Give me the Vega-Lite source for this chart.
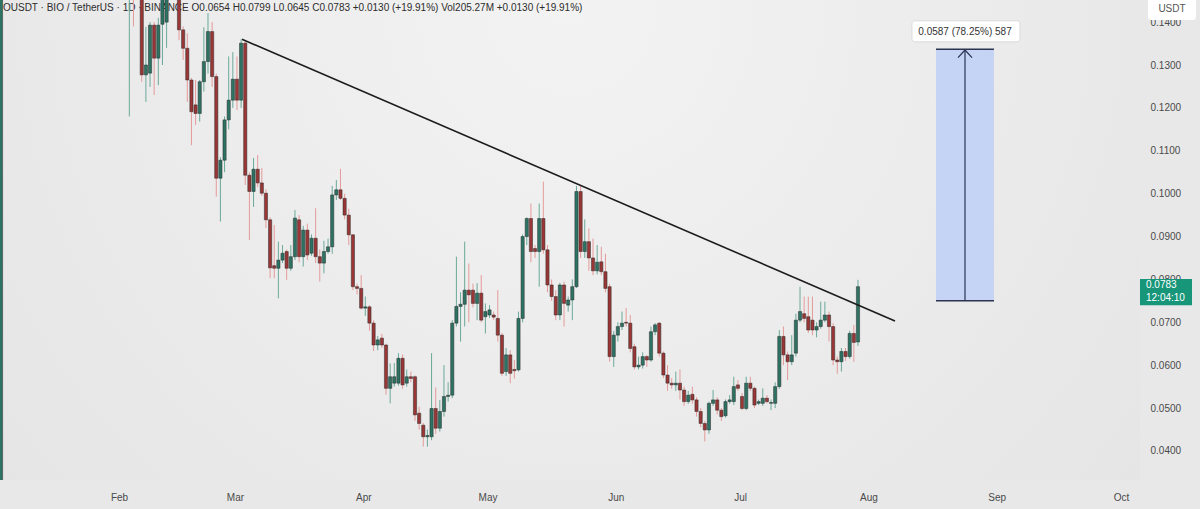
{
"$schema": "https://vega.github.io/schema/vega-lite/v6.json",
"width": 1140,
"height": 480,
"autosize": {"type": "none"},
"padding": {"left": 0, "top": 0, "right": 60, "bottom": 29},
"background": "#e8e8e8",
"config": {
  "view": {"stroke": null, "fill": {"gradient": "radial", "x1": 0.5, "y1": 0.3, "r1": 0, "x2": 0.5, "y2": 0.3, "r2": 0.8, "stops": [{"offset": 0, "color": "#f3f3f3"}, {"offset": 1, "color": "#e2e2e2"}]}},
  "axis": {"labelFont": "Liberation Sans", "labelColor": "#4a4a4a", "labelFontSize": 10, "domain": false, "ticks": false, "grid": false}
},
"data": {
  "format": {"parse": {"d": "date:'%Y-%m-%d'"}},
  "values": [
{"d":"2025-01-03","o":0.030,"h":0.900,"l":0.030,"c":0.800},
{"d":"2025-02-03","o":0.150,"h":0.165,"l":0.118,"c":0.158},
{"d":"2025-02-04","o":0.160,"h":0.163,"l":0.139,"c":0.150},
{"d":"2025-02-05","o":0.150,"h":0.156,"l":0.146,"c":0.152},
{"d":"2025-02-06","o":0.152,"h":0.154,"l":0.1261,"c":0.1277},
{"d":"2025-02-07","o":0.1277,"h":0.1389,"l":0.1214,"c":0.1300},
{"d":"2025-02-08","o":0.1281,"h":0.1400,"l":0.1249,"c":0.1393},
{"d":"2025-02-09","o":0.1393,"h":0.1400,"l":0.1230,"c":0.1316},
{"d":"2025-02-10","o":0.1316,"h":0.1410,"l":0.1253,"c":0.1393},
{"d":"2025-02-11","o":0.1395,"h":0.1560,"l":0.1300,"c":0.1500},
{"d":"2025-02-12","o":0.1400,"h":0.1580,"l":0.1340,"c":0.1560},
{"d":"2025-02-13","o":0.156,"h":0.162,"l":0.150,"c":0.160},
{"d":"2025-02-14","o":0.160,"h":0.165,"l":0.152,"c":0.155},
{"d":"2025-02-15","o":0.1510,"h":0.1540,"l":0.1358,"c":0.1382},
{"d":"2025-02-16","o":0.1382,"h":0.1390,"l":0.1312,"c":0.1339},
{"d":"2025-02-17","o":0.1339,"h":0.1374,"l":0.1214,"c":0.1265},
{"d":"2025-02-18","o":0.1265,"h":0.1270,"l":0.1113,"c":0.1191},
{"d":"2025-02-19","o":0.1207,"h":0.1265,"l":0.1160,"c":0.1187},
{"d":"2025-02-20","o":0.1187,"h":0.1265,"l":0.1168,"c":0.1261},
{"d":"2025-02-21","o":0.1261,"h":0.1388,"l":0.1238,"c":0.1308},
{"d":"2025-02-22","o":0.1308,"h":0.1421,"l":0.1280,"c":0.1378},
{"d":"2025-02-23","o":0.1378,"h":0.1400,"l":0.1249,"c":0.1273},
{"d":"2025-02-24","o":0.1273,"h":0.1280,"l":0.0993,"c":0.1036},
{"d":"2025-02-25","o":0.1036,"h":0.1085,"l":0.0935,"c":0.1078},
{"d":"2025-02-26","o":0.1078,"h":0.1180,"l":0.1050,"c":0.1172},
{"d":"2025-02-27","o":0.1172,"h":0.1320,"l":0.1150,"c":0.1218},
{"d":"2025-02-28","o":0.1218,"h":0.1330,"l":0.1200,"c":0.1267},
{"d":"2025-03-01","o":0.1267,"h":0.1320,"l":0.1195,"c":0.1218},
{"d":"2025-03-02","o":0.1218,"h":0.1360,"l":0.1200,"c":0.1351},
{"d":"2025-03-03","o":0.1351,"h":0.1358,"l":0.1020,"c":0.1043},
{"d":"2025-03-04","o":0.1043,"h":0.1050,"l":0.0892,"c":0.1005},
{"d":"2025-03-05","o":0.1005,"h":0.1083,"l":0.0969,"c":0.1057},
{"d":"2025-03-06","o":0.1057,"h":0.1090,"l":0.1015,"c":0.1025},
{"d":"2025-03-07","o":0.1025,"h":0.1060,"l":0.0995,"c":0.1001},
{"d":"2025-03-08","o":0.1001,"h":0.1010,"l":0.0920,"c":0.0939},
{"d":"2025-03-09","o":0.0939,"h":0.0945,"l":0.0803,"c":0.0827},
{"d":"2025-03-10","o":0.0832,"h":0.0927,"l":0.0803,"c":0.0826},
{"d":"2025-03-11","o":0.0826,"h":0.0888,"l":0.0756,"c":0.0845},
{"d":"2025-03-12","o":0.0845,"h":0.0880,"l":0.0838,"c":0.0861},
{"d":"2025-03-13","o":0.0865,"h":0.0870,"l":0.0799,"c":0.0826},
{"d":"2025-03-14","o":0.0826,"h":0.0880,"l":0.0820,"c":0.0853},
{"d":"2025-03-15","o":0.0853,"h":0.0962,"l":0.0845,"c":0.0943},
{"d":"2025-03-16","o":0.0939,"h":0.0950,"l":0.0840,"c":0.0853},
{"d":"2025-03-17","o":0.0853,"h":0.0925,"l":0.0830,"c":0.0915},
{"d":"2025-03-18","o":0.0915,"h":0.0930,"l":0.0845,"c":0.0857},
{"d":"2025-03-19","o":0.0861,"h":0.0905,"l":0.0855,"c":0.0896},
{"d":"2025-03-20","o":0.0896,"h":0.0966,"l":0.0838,"c":0.0853},
{"d":"2025-03-21","o":0.0853,"h":0.0870,"l":0.0795,"c":0.0838},
{"d":"2025-03-22","o":0.0838,"h":0.0890,"l":0.0814,"c":0.0865},
{"d":"2025-03-23","o":0.0865,"h":0.0895,"l":0.0860,"c":0.0876},
{"d":"2025-03-24","o":0.0876,"h":0.1018,"l":0.0860,"c":0.0997},
{"d":"2025-03-25","o":0.0997,"h":0.1032,"l":0.0985,"c":0.1009},
{"d":"2025-03-26","o":0.1009,"h":0.1058,"l":0.0985,"c":0.0989},
{"d":"2025-03-27","o":0.0989,"h":0.1000,"l":0.0940,"c":0.0950},
{"d":"2025-03-28","o":0.0950,"h":0.0965,"l":0.0880,"c":0.0904},
{"d":"2025-03-29","o":0.0904,"h":0.0906,"l":0.0775,"c":0.0783},
{"d":"2025-03-30","o":0.0783,"h":0.0790,"l":0.0765,"c":0.0779},
{"d":"2025-03-31","o":0.0779,"h":0.0810,"l":0.0730,"c":0.0733},
{"d":"2025-04-01","o":0.0733,"h":0.0760,"l":0.0715,"c":0.0736},
{"d":"2025-04-02","o":0.0736,"h":0.0740,"l":0.0680,"c":0.0698},
{"d":"2025-04-03","o":0.0698,"h":0.0705,"l":0.0633,"c":0.0647},
{"d":"2025-04-04","o":0.0647,"h":0.0668,"l":0.0635,"c":0.0659},
{"d":"2025-04-05","o":0.0663,"h":0.0673,"l":0.0640,"c":0.0647},
{"d":"2025-04-06","o":0.0647,"h":0.0650,"l":0.0531,"c":0.0546},
{"d":"2025-04-07","o":0.0546,"h":0.0604,"l":0.0511,"c":0.0573},
{"d":"2025-04-08","o":0.0558,"h":0.0605,"l":0.0550,"c":0.0573},
{"d":"2025-04-09","o":0.0558,"h":0.0628,"l":0.0552,"c":0.0616},
{"d":"2025-04-10","o":0.0616,"h":0.0625,"l":0.0545,"c":0.0554},
{"d":"2025-04-11","o":0.0558,"h":0.0590,"l":0.0550,"c":0.0573},
{"d":"2025-04-12","o":0.0573,"h":0.0585,"l":0.0560,"c":0.0569},
{"d":"2025-04-13","o":0.0573,"h":0.0576,"l":0.0470,"c":0.0484},
{"d":"2025-04-14","o":0.0488,"h":0.0503,"l":0.0450,"c":0.0464},
{"d":"2025-04-15","o":0.0460,"h":0.0465,"l":0.0410,"c":0.0433},
{"d":"2025-04-16","o":0.0433,"h":0.0450,"l":0.0410,"c":0.0436},
{"d":"2025-04-17","o":0.0433,"h":0.0628,"l":0.0425,"c":0.0499},
{"d":"2025-04-18","o":0.0499,"h":0.0548,"l":0.0440,"c":0.0453},
{"d":"2025-04-19","o":0.0453,"h":0.0519,"l":0.0445,"c":0.0492},
{"d":"2025-04-20","o":0.0492,"h":0.0600,"l":0.0480,"c":0.0527},
{"d":"2025-04-21","o":0.0527,"h":0.0560,"l":0.0515,"c":0.0530},
{"d":"2025-04-22","o":0.0530,"h":0.0705,"l":0.0523,"c":0.0698},
{"d":"2025-04-23","o":0.0698,"h":0.0853,"l":0.0690,"c":0.0737},
{"d":"2025-04-24","o":0.0737,"h":0.0770,"l":0.0655,"c":0.0742},
{"d":"2025-04-25","o":0.0742,"h":0.0888,"l":0.0690,"c":0.0775},
{"d":"2025-04-26","o":0.0775,"h":0.0837,"l":0.0700,"c":0.0764},
{"d":"2025-04-27","o":0.0775,"h":0.0790,"l":0.0735,"c":0.0744},
{"d":"2025-04-28","o":0.0744,"h":0.0791,"l":0.0705,"c":0.0768},
{"d":"2025-04-29","o":0.0768,"h":0.0810,"l":0.0700,"c":0.0705},
{"d":"2025-04-30","o":0.0713,"h":0.0744,"l":0.0674,"c":0.0725},
{"d":"2025-05-01","o":0.0717,"h":0.0740,"l":0.0710,"c":0.0729},
{"d":"2025-05-02","o":0.0717,"h":0.0725,"l":0.0705,"c":0.0712},
{"d":"2025-05-03","o":0.0709,"h":0.0775,"l":0.0655,"c":0.0670},
{"d":"2025-05-04","o":0.0670,"h":0.0675,"l":0.0575,"c":0.0581},
{"d":"2025-05-05","o":0.0585,"h":0.0640,"l":0.0575,"c":0.0624},
{"d":"2025-05-06","o":0.0624,"h":0.0635,"l":0.0558,"c":0.0581},
{"d":"2025-05-07","o":0.0590,"h":0.0612,"l":0.0569,"c":0.0587},
{"d":"2025-05-08","o":0.0589,"h":0.0725,"l":0.0585,"c":0.0709},
{"d":"2025-05-09","o":0.0709,"h":0.0905,"l":0.0700,"c":0.0900},
{"d":"2025-05-10","o":0.0900,"h":0.0945,"l":0.0880,"c":0.0942},
{"d":"2025-05-11","o":0.0942,"h":0.0977,"l":0.0840,"c":0.0865},
{"d":"2025-05-12","o":0.0872,"h":0.0880,"l":0.0850,"c":0.0865},
{"d":"2025-05-13","o":0.0865,"h":0.0977,"l":0.0783,"c":0.0942},
{"d":"2025-05-14","o":0.0942,"h":0.1028,"l":0.0860,"c":0.0869},
{"d":"2025-05-15","o":0.0869,"h":0.0880,"l":0.0770,"c":0.0787},
{"d":"2025-05-16","o":0.0787,"h":0.0800,"l":0.0750,"c":0.0760},
{"d":"2025-05-17","o":0.0760,"h":0.0775,"l":0.0705,"c":0.0717},
{"d":"2025-05-18","o":0.0717,"h":0.0792,"l":0.0705,"c":0.0787},
{"d":"2025-05-19","o":0.0787,"h":0.0795,"l":0.0690,"c":0.0744},
{"d":"2025-05-20","o":0.0740,"h":0.0760,"l":0.0725,"c":0.0752},
{"d":"2025-05-21","o":0.0752,"h":0.0800,"l":0.0705,"c":0.0783},
{"d":"2025-05-22","o":0.0783,"h":0.1018,"l":0.0780,"c":0.1005},
{"d":"2025-05-23","o":0.1005,"h":0.1018,"l":0.0850,"c":0.0865},
{"d":"2025-05-24","o":0.0865,"h":0.0940,"l":0.0850,"c":0.0888},
{"d":"2025-05-25","o":0.0888,"h":0.0919,"l":0.0820,"c":0.0850},
{"d":"2025-05-26","o":0.0850,"h":0.0895,"l":0.0810,"c":0.0820},
{"d":"2025-05-27","o":0.0820,"h":0.0880,"l":0.0812,"c":0.0840},
{"d":"2025-05-28","o":0.0841,"h":0.0876,"l":0.0810,"c":0.0818},
{"d":"2025-05-29","o":0.0818,"h":0.0860,"l":0.0770,"c":0.0779},
{"d":"2025-05-30","o":0.0783,"h":0.0790,"l":0.0608,"c":0.0620},
{"d":"2025-05-31","o":0.0620,"h":0.0680,"l":0.0596,"c":0.0670},
{"d":"2025-06-01","o":0.0670,"h":0.0700,"l":0.0655,"c":0.0690},
{"d":"2025-06-02","o":0.0690,"h":0.0725,"l":0.0682,"c":0.0698},
{"d":"2025-06-03","o":0.0700,"h":0.0733,"l":0.0690,"c":0.0698},
{"d":"2025-06-04","o":0.0698,"h":0.0717,"l":0.0630,"c":0.0639},
{"d":"2025-06-05","o":0.0643,"h":0.0650,"l":0.0590,"c":0.0596},
{"d":"2025-06-06","o":0.0596,"h":0.0620,"l":0.0590,"c":0.0600},
{"d":"2025-06-07","o":0.0600,"h":0.0630,"l":0.0592,"c":0.0620},
{"d":"2025-06-08","o":0.0620,"h":0.0624,"l":0.0596,"c":0.0612},
{"d":"2025-06-09","o":0.0612,"h":0.0690,"l":0.0608,"c":0.0678},
{"d":"2025-06-10","o":0.0678,"h":0.0698,"l":0.0670,"c":0.0694},
{"d":"2025-06-11","o":0.0698,"h":0.0700,"l":0.0620,"c":0.0628},
{"d":"2025-06-12","o":0.0628,"h":0.0632,"l":0.0570,"c":0.0577},
{"d":"2025-06-13","o":0.0577,"h":0.0600,"l":0.0540,"c":0.0558},
{"d":"2025-06-14","o":0.0558,"h":0.0570,"l":0.0545,"c":0.0554},
{"d":"2025-06-15","o":0.0554,"h":0.0585,"l":0.0540,"c":0.0558},
{"d":"2025-06-16","o":0.0558,"h":0.0590,"l":0.0520,"c":0.0542},
{"d":"2025-06-17","o":0.0542,"h":0.0550,"l":0.0505,"c":0.0515},
{"d":"2025-06-18","o":0.0515,"h":0.0540,"l":0.0510,"c":0.0530},
{"d":"2025-06-19","o":0.0532,"h":0.0550,"l":0.0510,"c":0.0519},
{"d":"2025-06-20","o":0.0519,"h":0.0525,"l":0.0480,"c":0.0492},
{"d":"2025-06-21","o":0.0492,"h":0.0500,"l":0.0455,"c":0.0464},
{"d":"2025-06-22","o":0.0464,"h":0.0470,"l":0.0422,"c":0.0449},
{"d":"2025-06-23","o":0.0449,"h":0.0515,"l":0.0440,"c":0.0511},
{"d":"2025-06-24","o":0.0511,"h":0.0542,"l":0.0505,"c":0.0519},
{"d":"2025-06-25","o":0.0519,"h":0.0525,"l":0.0485,"c":0.0495},
{"d":"2025-06-26","o":0.0495,"h":0.0500,"l":0.0470,"c":0.0480},
{"d":"2025-06-27","o":0.0482,"h":0.0520,"l":0.0478,"c":0.0515},
{"d":"2025-06-28","o":0.0515,"h":0.0530,"l":0.0510,"c":0.0519},
{"d":"2025-06-29","o":0.0515,"h":0.0573,"l":0.0507,"c":0.0550},
{"d":"2025-06-30","o":0.0554,"h":0.0565,"l":0.0540,"c":0.0546},
{"d":"2025-07-01","o":0.0527,"h":0.0535,"l":0.0495,"c":0.0499},
{"d":"2025-07-02","o":0.0499,"h":0.0573,"l":0.0495,"c":0.0558},
{"d":"2025-07-03","o":0.0558,"h":0.0573,"l":0.0540,"c":0.0546},
{"d":"2025-07-04","o":0.0546,"h":0.0550,"l":0.0500,"c":0.0507},
{"d":"2025-07-05","o":0.0511,"h":0.0520,"l":0.0507,"c":0.0515},
{"d":"2025-07-06","o":0.0511,"h":0.0546,"l":0.0505,"c":0.0523},
{"d":"2025-07-07","o":0.0523,"h":0.0530,"l":0.0511,"c":0.0515},
{"d":"2025-07-08","o":0.0511,"h":0.0520,"l":0.0495,"c":0.0513},
{"d":"2025-07-09","o":0.0511,"h":0.0560,"l":0.0500,"c":0.0550},
{"d":"2025-07-10","o":0.0550,"h":0.0682,"l":0.0545,"c":0.0667},
{"d":"2025-07-11","o":0.0667,"h":0.0690,"l":0.0600,"c":0.0624},
{"d":"2025-07-12","o":0.0624,"h":0.0632,"l":0.0565,"c":0.0608},
{"d":"2025-07-13","o":0.0608,"h":0.0670,"l":0.0600,"c":0.0624},
{"d":"2025-07-14","o":0.0628,"h":0.0720,"l":0.0620,"c":0.0705},
{"d":"2025-07-15","o":0.0705,"h":0.0783,"l":0.0700,"c":0.0725},
{"d":"2025-07-16","o":0.0720,"h":0.0760,"l":0.0700,"c":0.0709},
{"d":"2025-07-17","o":0.0713,"h":0.0760,"l":0.0675,"c":0.0682},
{"d":"2025-07-18","o":0.0705,"h":0.0760,"l":0.0670,"c":0.0682},
{"d":"2025-07-19","o":0.0682,"h":0.0700,"l":0.0665,"c":0.0690},
{"d":"2025-07-20","o":0.0690,"h":0.0748,"l":0.0685,"c":0.0705},
{"d":"2025-07-21","o":0.0705,"h":0.0748,"l":0.0700,"c":0.0717},
{"d":"2025-07-22","o":0.0717,"h":0.0725,"l":0.0655,"c":0.0690},
{"d":"2025-07-23","o":0.0690,"h":0.0698,"l":0.0600,"c":0.0612},
{"d":"2025-07-24","o":0.0612,"h":0.0620,"l":0.0580,"c":0.0608},
{"d":"2025-07-25","o":0.0608,"h":0.0640,"l":0.0585,"c":0.0632},
{"d":"2025-07-26","o":0.0632,"h":0.0640,"l":0.0610,"c":0.0620},
{"d":"2025-07-27","o":0.0620,"h":0.0680,"l":0.0615,"c":0.0674},
{"d":"2025-07-28","o":0.0674,"h":0.0694,"l":0.0608,"c":0.0653},
{"d":"2025-07-29","o":0.0654,"h":0.0799,"l":0.0645,"c":0.0783}
  ]
},
"layer": [
  {
    "data": {"values": [{"t": "2025-01-03 11:30", "p": 0.1433, "s": "OUSDT · BIO / TetherUS · 1D · BINANCE   O0.0654  H0.0799  L0.0645  C0.0783  +0.0130 (+19.91%)  Vol205.27M  +0.0130 (+19.91%)"}], "format": {"parse": {"t": "date:'%Y-%m-%d %H:%M'"}}},
    "mark": {"type": "text", "align": "left", "baseline": "middle", "font": "Liberation Sans", "fontSize": 10, "color": "#2c2c2c"},
    "encoding": {
      "x": {"field": "t", "type": "temporal", "title": null,
        "scale": {"nice": false, "padding": 0, "domain": [{"year": 2025, "month": 1, "date": 2, "hours": 18, "minutes": 13}, {"year": 2025, "month": 10, "date": 5, "hours": 2, "minutes": 53}]},
        "axis": {"orient": "bottom", "title": null, "format": "%b", "labelOffset": -2, "labelPadding": 12, "labelFlush": false, "labelOverlap": false,
          "values": [{"year": 2025, "month": 2, "date": 1}, {"year": 2025, "month": 3, "date": 1}, {"year": 2025, "month": 4, "date": 1}, {"year": 2025, "month": 5, "date": 1}, {"year": 2025, "month": 6, "date": 1}, {"year": 2025, "month": 7, "date": 1}, {"year": 2025, "month": 8, "date": 1}, {"year": 2025, "month": 9, "date": 1}, {"year": 2025, "month": 10, "date": 1}]}},
      "y": {"field": "p", "type": "quantitative", "title": null,
        "scale": {"domain": [0.03322, 0.14516], "nice": false, "zero": false, "padding": 0},
        "axis": {"orient": "right", "title": null, "format": ".4f", "labelPadding": 10, "labelFlush": false, "labelOverlap": false, "values": [0.04, 0.05, 0.06, 0.07, 0.08, 0.09, 0.10, 0.11, 0.12, 0.13, 0.14]}},
      "text": {"field": "s"}
    }
  },
  {
    "mark": {"type": "rule", "clip": true, "strokeWidth": 1},
    "encoding": {
      "x": {"field": "d", "type": "temporal", "title": null},
      "y": {"field": "l", "type": "quantitative", "title": null},
      "y2": {"field": "h"},
      "color": {"condition": {"test": "datum.c >= datum.o", "value": "#6aa999"}, "value": "#e59a9a"}
    }
  },
  {
    "mark": {"type": "bar", "clip": true, "size": 3.2, "stroke": "#2a2a2a", "strokeWidth": 0.5},
    "encoding": {
      "x": {"field": "d", "type": "temporal", "title": null},
      "y": {"field": "o", "type": "quantitative", "title": null},
      "y2": {"field": "c"},
      "fill": {"condition": {"test": "datum.c >= datum.o", "value": "#2d7363"}, "value": "#9a3636"}
    }
  },
  {
    "data": {"values": [{"t": "2025-03-02 05:00", "p": 0.1360}, {"t": "2025-08-06 22:30", "p": 0.0703}], "format": {"parse": {"t": "date:'%Y-%m-%d %H:%M'"}}},
    "mark": {"type": "line", "color": "#1c1c1c", "strokeWidth": 1.6},
    "encoding": {"x": {"field": "t", "type": "temporal", "title": null}, "y": {"field": "p", "type": "quantitative", "title": null}}
  },
  {
    "data": {"values": [{"t1": "2025-08-16 20:10", "t2": "2025-08-30 20:25", "p1": 0.0750, "p2": 0.1337}], "format": {"parse": {"t1": "date:'%Y-%m-%d %H:%M'", "t2": "date:'%Y-%m-%d %H:%M'"}}},
    "mark": {"type": "rect", "fill": "#c5d4f4"},
    "encoding": {"x": {"field": "t1", "type": "temporal", "title": null}, "x2": {"field": "t2"}, "y": {"field": "p1", "type": "quantitative", "title": null}, "y2": {"field": "p2"}}
  },
  {
    "data": {"values": [{"t1": "2025-08-16 20:10", "t2": "2025-08-30 20:25", "p": 0.1337}, {"t1": "2025-08-16 20:10", "t2": "2025-08-30 20:25", "p": 0.0750}], "format": {"parse": {"t1": "date:'%Y-%m-%d %H:%M'", "t2": "date:'%Y-%m-%d %H:%M'"}}},
    "mark": {"type": "rule", "color": "#2a3350", "strokeWidth": 1.5},
    "encoding": {"x": {"field": "t1", "type": "temporal", "title": null}, "x2": {"field": "t2"}, "y": {"field": "p", "type": "quantitative", "title": null}}
  },
  {
    "data": {"values": [{"t": "2025-08-23 20:24", "p1": 0.0750, "p2": 0.1335}], "format": {"parse": {"t": "date:'%Y-%m-%d %H:%M'"}}},
    "mark": {"type": "rule", "color": "#2a3350", "strokeWidth": 1.2},
    "encoding": {"x": {"field": "t", "type": "temporal", "title": null}, "y": {"field": "p1", "type": "quantitative", "title": null}, "y2": {"field": "p2"}}
  },
  {
    "data": {"values": [{"t": "2025-08-22 04:00", "p": 0.1317, "k": 1}, {"t": "2025-08-23 20:24", "p": 0.1335, "k": 2}, {"t": "2025-08-25 13:00", "p": 0.1317, "k": 3}], "format": {"parse": {"t": "date:'%Y-%m-%d %H:%M'"}}},
    "mark": {"type": "line", "color": "#2a3350", "strokeWidth": 1.2},
    "encoding": {"x": {"field": "t", "type": "temporal", "title": null}, "y": {"field": "p", "type": "quantitative", "title": null}, "order": {"field": "k"}}
  },
  {
    "data": {"values": [{"t1": "2025-08-11 01:10", "t2": "2025-09-06 03:00", "p1": 0.1354, "p2": 0.1403}], "format": {"parse": {"t1": "date:'%Y-%m-%d %H:%M'", "t2": "date:'%Y-%m-%d %H:%M'"}}},
    "mark": {"type": "rect", "fill": "#ffffff", "stroke": "#d4d4d4", "strokeWidth": 0.8, "cornerRadius": 3},
    "encoding": {"x": {"field": "t1", "type": "temporal", "title": null}, "x2": {"field": "t2"}, "y": {"field": "p1", "type": "quantitative", "title": null}, "y2": {"field": "p2"}}
  },
  {
    "data": {"values": [{"t": "2025-08-23 20:24", "p": 0.1378, "s": "0.0587 (78.25%) 587"}], "format": {"parse": {"t": "date:'%Y-%m-%d %H:%M'"}}},
    "mark": {"type": "text", "align": "center", "baseline": "middle", "font": "Liberation Sans", "fontSize": 10, "color": "#333333"},
    "encoding": {"x": {"field": "t", "type": "temporal", "title": null}, "y": {"field": "p", "type": "quantitative", "title": null}, "text": {"field": "s"}}
  },
  {
    "data": {"values": [{"t1": "2025-10-05 02:53", "t2": "2025-10-17 16:20", "p1": 0.0740, "p2": 0.0801}], "format": {"parse": {"t1": "date:'%Y-%m-%d %H:%M'", "t2": "date:'%Y-%m-%d %H:%M'"}}},
    "mark": {"type": "rect", "fill": "#17967a"},
    "encoding": {"x": {"field": "t1", "type": "temporal", "title": null}, "x2": {"field": "t2"}, "y": {"field": "p1", "type": "quantitative", "title": null}, "y2": {"field": "p2"}}
  },
  {
    "data": {"values": [{"t": "2025-10-06 13:40", "p": 0.0786, "s": "0.0783"}, {"t": "2025-10-06 13:40", "p": 0.0756, "s": "12:04:10"}], "format": {"parse": {"t": "date:'%Y-%m-%d %H:%M'"}}},
    "mark": {"type": "text", "align": "left", "baseline": "middle", "font": "Liberation Sans", "fontSize": 10, "color": "#ffffff"},
    "encoding": {"x": {"field": "t", "type": "temporal", "title": null}, "y": {"field": "p", "type": "quantitative", "title": null}, "text": {"field": "s"}}
  },
  {
    "data": {"values": [{"t1": "2025-10-07 01:00", "t2": "2025-10-18 15:20", "p1": 0.1405, "p2": 0.1462}], "format": {"parse": {"t1": "date:'%Y-%m-%d %H:%M'", "t2": "date:'%Y-%m-%d %H:%M'"}}},
    "mark": {"type": "rect", "fill": "#ffffff", "cornerRadius": 3},
    "encoding": {"x": {"field": "t1", "type": "temporal", "title": null}, "x2": {"field": "t2"}, "y": {"field": "p1", "type": "quantitative", "title": null}, "y2": {"field": "p2"}}
  },
  {
    "data": {"values": [{"t": "2025-10-12 20:25", "p": 0.1431, "s": "USDT"}], "format": {"parse": {"t": "date:'%Y-%m-%d %H:%M'"}}},
    "mark": {"type": "text", "align": "center", "baseline": "middle", "font": "Liberation Sans", "fontSize": 10, "color": "#555555"},
    "encoding": {"x": {"field": "t", "type": "temporal", "title": null}, "y": {"field": "p", "type": "quantitative", "title": null}, "text": {"field": "s"}}
  }
]
}
